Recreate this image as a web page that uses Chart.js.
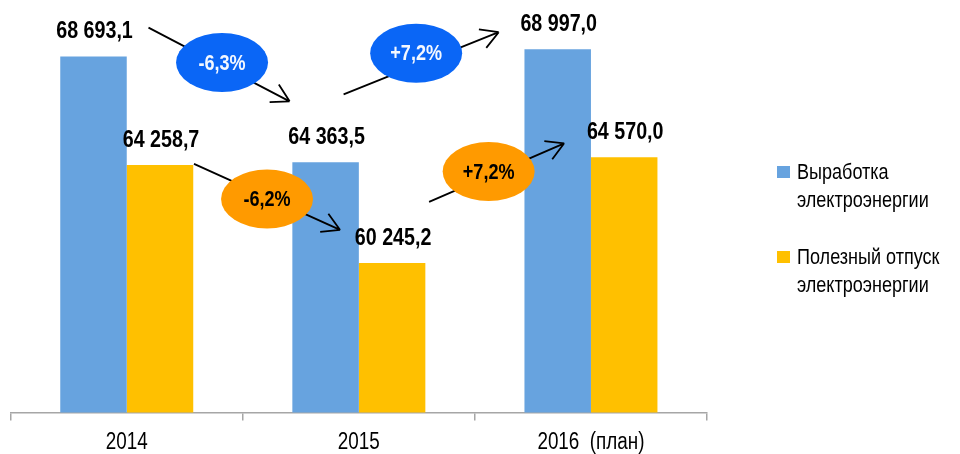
<!DOCTYPE html>
<html>
<head>
<meta charset="utf-8">
<script src="https://cdn.jsdelivr.net/npm/chart.js@4"></script>
<style>
  html, body { margin: 0; padding: 0; background: #fff; }
  #wrap { width: 960px; height: 454px; }
</style>
</head>
<body>
<div id="wrap"><canvas id="chart" width="960" height="454"></canvas></div>
<script>
const years = ["2014", "2015", "2016  (план)"];
const seriesNames = ["Выработка электроэнергии", "Полезный отпуск электроэнергии"];
const production = [68693.1, 64363.5, 68997.0];
const usefulSupply = [64258.7, 60245.2, 64570.0];
const seriesColors = ["#67A3DF", "#FFC000"];

// no Arial Narrow here, so squeeze Liberation Sans horizontally
const FONT = "'Liberation Sans', Arial, sans-serif";
const SQUEEZE = 0.82;

// change bubbles: dataset, from/to bar, arrow end offsets from bar top, bubble offset
const changes = [
  { ds: 0, from: 0, to: 1, a: [55, -29], b: [-36, -61], e: [3, -2], fill: "#0A66F6", text: "#F4F8FF" },
  { ds: 0, from: 1, to: 2, a: [18, -68], b: [-59, -17], e: [-5, -10], fill: "#0A66F6", text: "#F4F8FF" },
  { ds: 1, from: 0, to: 1, a: [34, -1], b: [-52, -33], e: [0, 2], fill: "#FF9A00", text: "#000" },
  { ds: 1, from: 1, to: 2, a: [37, -61], b: [-60, -14], e: [-8, -1], fill: "#FF9A00", text: "#000" }
];

function fmt(v) {
  let [int, dec] = v.toFixed(1).split(".");
  int = int.replace(/\B(?=(\d{3})+(?!\d))/g, " ");
  return int + "," + dec;
}

function pct(a, b) {
  const p = (b / a - 1) * 100;
  return (p > 0 ? "+" : "") + p.toFixed(1).replace(".", ",") + "%";
}

function narrowText(ctx, text, x, y) {
  ctx.save();
  ctx.translate(x, y);
  ctx.scale(SQUEEZE, 1);
  ctx.fillText(text, 0, 0);
  ctx.restore();
}

const annotate = {
  id: "annotate",
  afterDatasetsDraw(chart) {
    const ctx = chart.ctx;
    ctx.save();
    ctx.textAlign = "center";
    ctx.textBaseline = "middle";

    // category labels under the axis
    const xs = chart.scales.x;
    ctx.font = "23px " + FONT;
    ctx.fillStyle = "#000";
    chart.data.labels.forEach((lab, i) => {
      narrowText(ctx, lab, xs.getPixelForValue(i), 443);
    });

    // value labels over bars
    ctx.font = "bold 24px " + FONT;
    chart.data.datasets.forEach((ds, d) => {
      chart.getDatasetMeta(d).data.forEach((bar, i) => {
        narrowText(ctx, fmt(ds.data[i]), bar.x + 1, bar.y - 25);
      });
    });

    // arrows with % bubbles
    changes.forEach(c => {
      const bars = chart.getDatasetMeta(c.ds).data;
      const vals = chart.data.datasets[c.ds].data;
      const p = bars[c.from], q = bars[c.to];
      const x1 = p.x + c.a[0], y1 = p.y + c.a[1];
      const x2 = q.x + c.b[0], y2 = q.y + c.b[1];

      ctx.strokeStyle = "#000";
      ctx.lineWidth = 1.8;
      ctx.beginPath();
      ctx.moveTo(x1, y1);
      ctx.lineTo(x2, y2);
      const ang = Math.atan2(y2 - y1, x2 - x1);
      [-0.52, 0.52].forEach(s => {
        ctx.moveTo(x2, y2);
        ctx.lineTo(x2 - 20 * Math.cos(ang + s), y2 - 20 * Math.sin(ang + s));
      });
      ctx.stroke();

      const ex = (x1 + x2) / 2 + c.e[0], ey = (y1 + y2) / 2 + c.e[1];
      ctx.fillStyle = c.fill;
      ctx.beginPath();
      ctx.ellipse(ex, ey, 46, 29.5, 0, 0, Math.PI * 2);
      ctx.fill();

      ctx.fillStyle = c.text;
      ctx.font = "bold 22px " + FONT;
      narrowText(ctx, pct(vals[c.from], vals[c.to]), ex, ey + 1);
    });

    ctx.restore();
  },
  afterDraw(chart) {
    // legend on the right, two lines per entry
    const ctx = chart.ctx;
    const x0 = chart.chartArea.right + 70;
    ctx.save();
    ctx.font = "22px " + FONT;
    ctx.textAlign = "left";
    ctx.textBaseline = "middle";
    chart.data.datasets.forEach((ds, d) => {
      const y = 173 + d * 85;
      const name = ds.label;
      const cut = name.lastIndexOf(" ");
      ctx.fillStyle = ds.backgroundColor;
      ctx.fillRect(x0, y - 7, 13, 12);
      ctx.fillStyle = "#000";
      narrowText(ctx, name.slice(0, cut), x0 + 20, y);
      narrowText(ctx, name.slice(cut + 1), x0 + 20, y + 28);
    });
    ctx.restore();
  }
};

new Chart(document.getElementById("chart"), {
  type: "bar",
  data: {
    labels: years,
    datasets: [
      {
        label: seriesNames[0],
        data: production,
        backgroundColor: seriesColors[0],
        barPercentage: 1,
        categoryPercentage: 0.573
      },
      {
        label: seriesNames[1],
        data: usefulSupply,
        backgroundColor: seriesColors[1],
        barPercentage: 1,
        categoryPercentage: 0.573
      }
    ]
  },
  options: {
    responsive: false,
    animation: false,
    layout: { padding: { top: 12.5, left: 10.7, right: 253, bottom: 0 } },
    plugins: {
      legend: { display: false },
      tooltip: { enabled: false }
    },
    scales: {
      x: {
        grid: {
          display: true,
          drawOnChartArea: false,
          drawTicks: true,
          tickLength: 8,
          color: "#A6A6A6",
          lineWidth: 1.5,
          offset: true
        },
        border: { display: true, color: "#A6A6A6", width: 1.5 },
        ticks: { display: false },
        afterFit(scale) { scale.height = 41.5; }
      },
      y: { display: false, min: 54120, max: 70500 }
    }
  },
  plugins: [annotate]
});
</script>
</body>
</html>
